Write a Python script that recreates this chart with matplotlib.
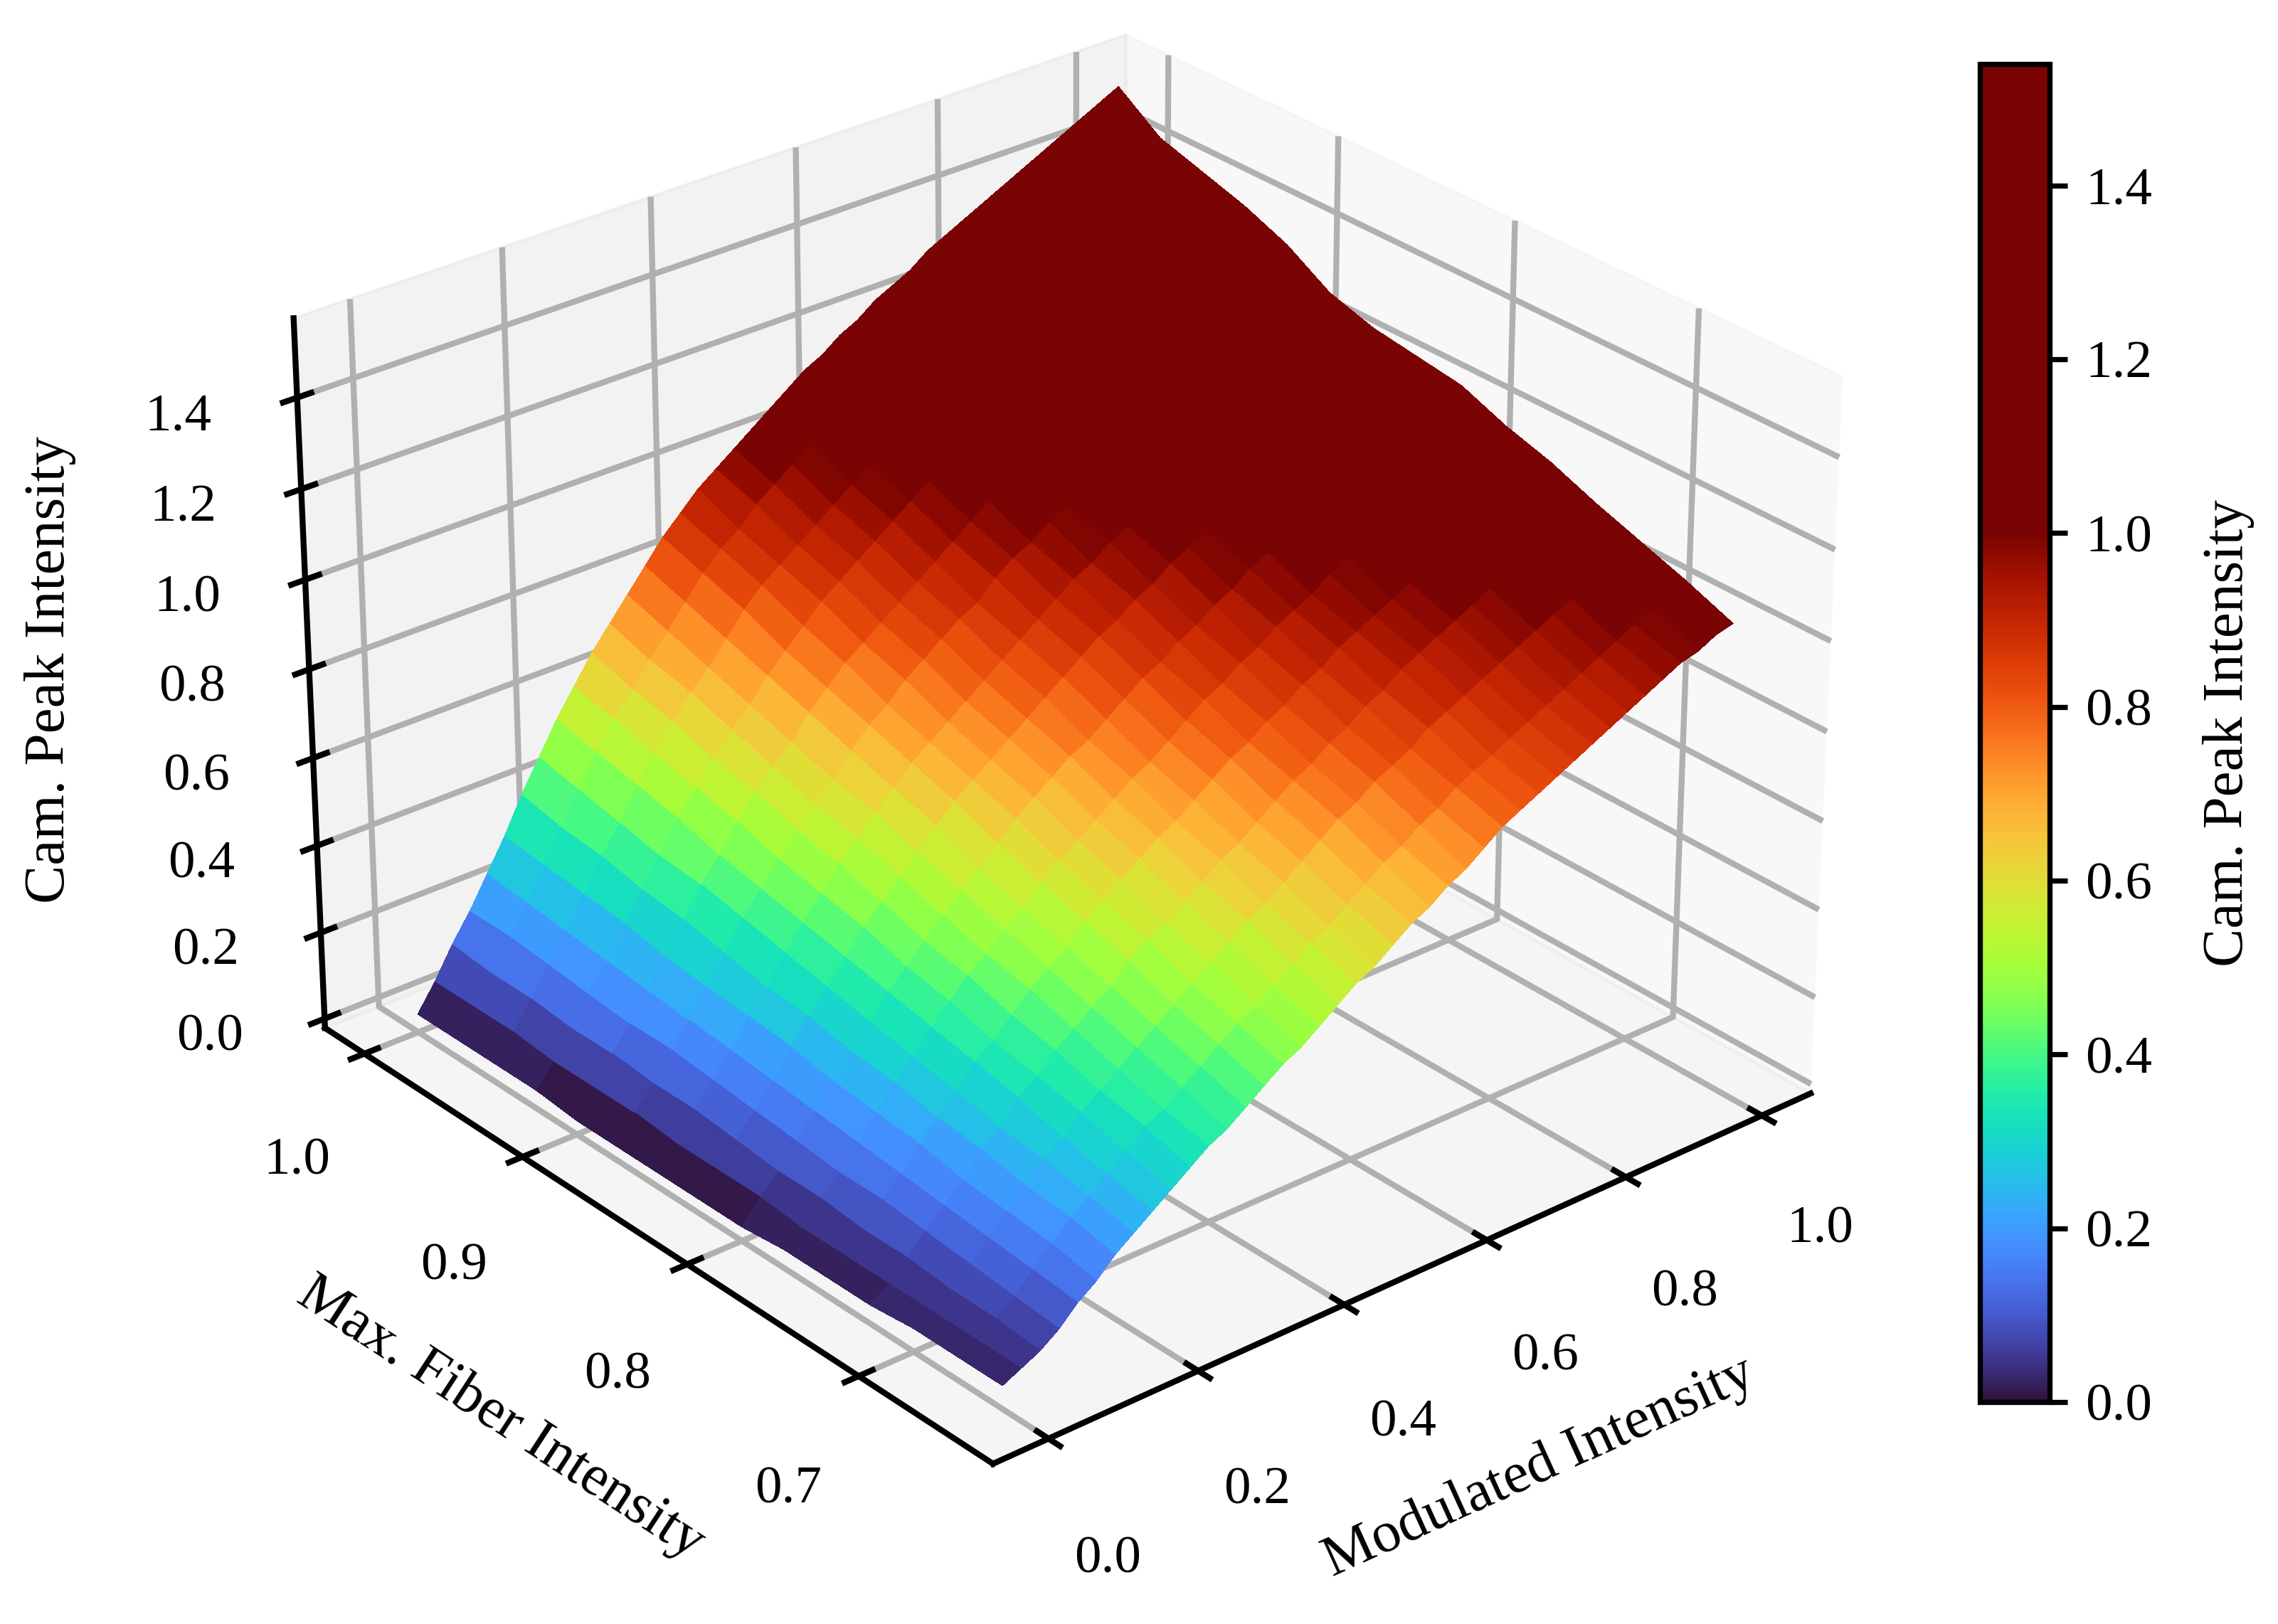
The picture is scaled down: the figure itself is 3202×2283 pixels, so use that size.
import numpy as np
import matplotlib
matplotlib.use("Agg")
import matplotlib.pyplot as plt
from matplotlib.cm import ScalarMappable
from matplotlib.colors import ListedColormap, Normalize

# values, rows are fiber levels, columns modulated levels
modulated = [0.000, 0.025, 0.050, 0.075, 0.100, 0.125, 0.150, 0.175, 0.200, 0.225, 0.250,
             0.275, 0.300, 0.325, 0.350, 0.375, 0.400, 0.425, 0.450, 0.475, 0.500,
             0.525, 0.550, 0.575, 0.600, 0.625, 0.650, 0.675, 0.700, 0.725, 0.750,
             0.775, 0.800, 0.825, 0.850, 0.875, 0.900, 0.925, 0.950, 0.975, 1.000]
fiber = [0.650, 0.675, 0.700, 0.725, 0.750, 0.775, 0.800, 0.825, 0.850, 0.875, 0.900,
         0.925, 0.950, 0.975, 1.000]
peak = [
    [0.03,0.05,0.07,0.10,0.14,0.17,0.21,0.24,0.27,0.30,0.33,0.36,0.38,0.41,0.44,0.47,0.49,0.52,0.55,0.58,0.60,0.63,0.66,0.68,0.71,0.73,0.76,0.79,0.81,0.83,0.85,0.87,0.89,0.91,0.93,0.95,0.97,0.99,1.00,1.02,1.03],
    [0.03,0.05,0.08,0.11,0.15,0.19,0.23,0.26,0.29,0.32,0.36,0.38,0.41,0.44,0.47,0.50,0.52,0.55,0.58,0.61,0.63,0.66,0.69,0.72,0.74,0.77,0.79,0.82,0.84,0.86,0.88,0.90,0.92,0.94,0.96,0.98,1.00,1.02,1.04,1.05,1.07],
    [0.03,0.05,0.08,0.12,0.16,0.20,0.24,0.28,0.31,0.35,0.38,0.41,0.44,0.47,0.50,0.53,0.56,0.59,0.62,0.64,0.67,0.70,0.73,0.76,0.78,0.81,0.83,0.85,0.88,0.90,0.92,0.94,0.96,0.98,1.00,1.02,1.04,1.06,1.08,1.09,1.105],
    [0.02,0.05,0.09,0.13,0.17,0.21,0.26,0.29,0.34,0.37,0.41,0.44,0.47,0.50,0.54,0.57,0.59,0.62,0.65,0.68,0.70,0.73,0.76,0.79,0.81,0.84,0.86,0.89,0.91,0.94,0.96,0.98,1.00,1.02,1.04,1.06,1.08,1.10,1.11,1.13,1.14],
    [0.02,0.05,0.09,0.14,0.18,0.23,0.27,0.31,0.36,0.39,0.43,0.47,0.50,0.53,0.57,0.60,0.63,0.66,0.69,0.71,0.74,0.77,0.80,0.82,0.85,0.87,0.90,0.92,0.95,0.97,0.99,1.01,1.03,1.05,1.07,1.09,1.11,1.13,1.15,1.17,1.18],
    [0.02,0.05,0.10,0.14,0.19,0.24,0.29,0.33,0.38,0.42,0.46,0.49,0.53,0.56,0.60,0.63,0.66,0.69,0.72,0.75,0.77,0.80,0.83,0.86,0.88,0.91,0.93,0.96,0.98,1.00,1.03,1.05,1.07,1.09,1.11,1.13,1.15,1.17,1.19,1.20,1.21],
    [0.01,0.06,0.10,0.15,0.20,0.25,0.30,0.35,0.40,0.44,0.48,0.52,0.56,0.59,0.63,0.67,0.70,0.73,0.76,0.78,0.81,0.84,0.87,0.89,0.92,0.94,0.97,0.99,1.02,1.04,1.06,1.08,1.10,1.12,1.14,1.17,1.19,1.21,1.23,1.24,1.25],
    [0.01,0.06,0.11,0.16,0.21,0.27,0.32,0.37,0.42,0.47,0.51,0.55,0.59,0.63,0.67,0.70,0.73,0.76,0.79,0.82,0.85,0.88,0.91,0.93,0.96,0.98,1.01,1.03,1.05,1.08,1.10,1.12,1.14,1.16,1.18,1.20,1.22,1.24,1.25,1.26,1.265],
    [0.01,0.06,0.12,0.17,0.22,0.28,0.33,0.39,0.44,0.49,0.54,0.58,0.62,0.66,0.70,0.73,0.76,0.79,0.82,0.85,0.88,0.91,0.94,0.97,0.99,1.02,1.04,1.06,1.08,1.11,1.13,1.15,1.17,1.19,1.21,1.23,1.25,1.26,1.27,1.28,1.28],
    [0.01,0.07,0.12,0.18,0.23,0.29,0.35,0.41,0.46,0.51,0.56,0.60,0.64,0.69,0.73,0.76,0.80,0.83,0.86,0.89,0.91,0.95,0.98,1.00,1.03,1.05,1.08,1.10,1.12,1.14,1.17,1.19,1.21,1.23,1.25,1.27,1.28,1.29,1.30,1.31,1.31],
    [0.01,0.07,0.13,0.18,0.24,0.30,0.37,0.43,0.48,0.54,0.59,0.63,0.67,0.72,0.76,0.80,0.83,0.86,0.89,0.92,0.95,0.98,1.01,1.04,1.06,1.09,1.11,1.13,1.15,1.18,1.20,1.22,1.24,1.26,1.28,1.30,1.32,1.34,1.35,1.36,1.37],
    [0.02,0.07,0.13,0.19,0.25,0.32,0.38,0.44,0.51,0.56,0.61,0.66,0.70,0.75,0.79,0.83,0.87,0.90,0.93,0.96,0.99,1.02,1.05,1.07,1.10,1.12,1.15,1.17,1.19,1.22,1.24,1.26,1.28,1.30,1.32,1.34,1.36,1.37,1.39,1.40,1.41],
    [0.02,0.08,0.14,0.20,0.26,0.33,0.40,0.46,0.53,0.58,0.64,0.69,0.73,0.78,0.83,0.87,0.90,0.93,0.96,0.99,1.02,1.05,1.08,1.11,1.13,1.16,1.18,1.20,1.22,1.25,1.27,1.29,1.31,1.33,1.35,1.37,1.39,1.41,1.42,1.43,1.44],
    [0.02,0.08,0.14,0.21,0.27,0.34,0.41,0.48,0.55,0.61,0.66,0.71,0.76,0.81,0.86,0.90,0.93,0.97,1.00,1.03,1.06,1.09,1.12,1.14,1.17,1.19,1.21,1.24,1.26,1.28,1.31,1.33,1.35,1.37,1.39,1.41,1.43,1.45,1.46,1.47,1.47],
    [0.02,0.08,0.15,0.21,0.28,0.35,0.43,0.50,0.57,0.63,0.69,0.74,0.79,0.84,0.89,0.93,0.97,1.00,1.03,1.06,1.09,1.12,1.15,1.17,1.20,1.22,1.25,1.27,1.29,1.32,1.34,1.36,1.38,1.40,1.42,1.44,1.46,1.48,1.50,1.52,1.54],
]
mod_ticks = [0.0, 0.2, 0.4, 0.6, 0.8, 1.0]
fiber_ticks = [0.7, 0.8, 0.9, 1.0]
peak_ticks = [0.0, 0.2, 0.4, 0.6, 0.8, 1.0, 1.2, 1.4]

plt.rcParams['font.family'] = ['Liberation Serif', 'DejaVu Serif']
plt.rcParams['font.size'] = 18
plt.rcParams['axes.labelsize'] = 19.5
plt.rcParams['axes.linewidth'] = 2.0
plt.rcParams['grid.color'] = '#b0b0b0'
plt.rcParams['grid.linewidth'] = 2.0
plt.rcParams['xtick.major.width'] = 2.0
plt.rcParams['ytick.major.width'] = 2.0

# turbo up to 1.0, flat dark red above
vmax = 1.54
n_low = 256
n_high = int(n_low * (vmax - 1.0))
low = plt.get_cmap('turbo')(np.linspace(0, 1, n_low))
cmap = ListedColormap(np.vstack([low, np.tile(low[-1], (n_high, 1))]))
norm = Normalize(0, vmax)

fig = plt.figure(figsize=(3203 / 300, 2283 / 300), dpi=300)
ax = fig.add_axes([0.0336, 0.033, 0.846, 1.03], projection='3d')

X, Y = np.meshgrid(modulated, fiber)
Z = np.array(peak)
# facecolors: each cell takes the colour of its first corner, as in the reference
ax.plot_surface(X, Y, Z, facecolors=cmap(norm(Z)), shade=False,
                rcount=len(fiber), ccount=len(modulated),
                linewidth=0, antialiased=False)
ax.view_init(elev=28, azim=-130)

ax.set_xticks(mod_ticks)
ax.set_yticks(fiber_ticks)
ax.set_zticks(peak_ticks)
ax.set_xlabel('Modulated Intensity', labelpad=29)
ax.set_ylabel('Max. Fiber Intensity', labelpad=29)
ax.zaxis.set_rotate_label(False)
ax.set_zlabel('Cam. Peak Intensity', labelpad=30, rotation=90)
ax.tick_params(axis='x', pad=16)
ax.tick_params(axis='y', pad=16)
ax.tick_params(axis='z', pad=15)
for axis in (ax.xaxis, ax.yaxis, ax.zaxis):
    axis._axinfo['tick']['inward_factor'] = 0.2
    axis._axinfo['tick']['outward_factor'] = 0.2

cax = fig.add_axes([0.869, 0.1367, 0.0305, 0.824])
cb = fig.colorbar(ScalarMappable(norm=norm, cmap=cmap), cax=cax)
cb.set_ticks(peak_ticks)
cb.set_label('Cam. Peak Intensity', labelpad=17)
cb.outline.set_linewidth(1.75)
cax.tick_params(length=6, width=1.75, pad=6)

fig.savefig('out.png', dpi=300)
